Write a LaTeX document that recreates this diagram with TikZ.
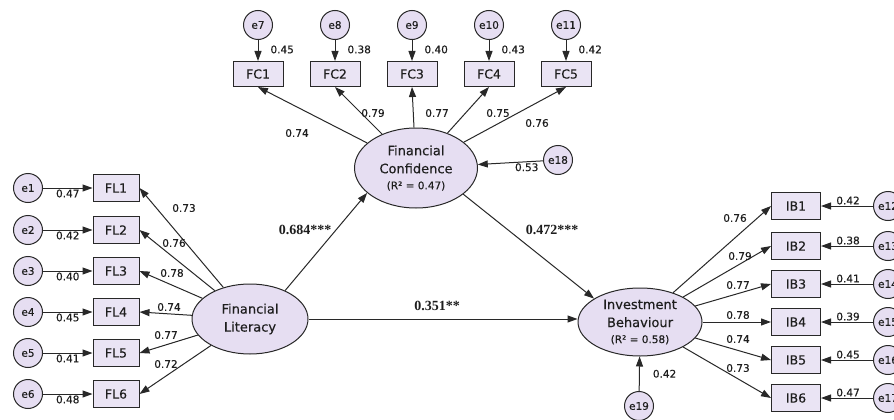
\documentclass[tikz,border=0pt]{standalone}
\usepackage{fontspec}
\setmainfont{DejaVu Sans}[FakeBold=0.3]
\newfontfamily\serifb{Liberation Serif}
\usetikzlibrary{arrows.meta,shapes.geometric}
\definecolor{lav}{RGB}{230,222,242}
\definecolor{boxfill}{RGB}{234,228,244}
\definecolor{ln}{RGB}{40,40,40}
\definecolor{tx}{RGB}{30,30,30}
\begin{document}
\begin{tikzpicture}[x=1pt,y=-1pt,
  latent/.style={ellipse, draw=ln, line width=1pt, fill=lav, align=center, inner sep=0pt, font=\fontsize{13}{18}\selectfont, text=tx},
  obs/.style={rectangle, draw=ln, line width=1pt, fill=boxfill, inner sep=0pt, font=\fontsize{12.5}{14}\selectfont, text=tx},
  flbox/.style={obs, minimum width=46pt, minimum height=27pt},
  fcbox/.style={obs, minimum width=50pt, minimum height=25pt},
  ibbox/.style={obs, minimum width=49pt, minimum height=27pt},
  err/.style={circle, draw=ln, line width=1pt, fill=lav, minimum size=29pt, inner sep=0pt, font=\fontsize{10.5}{12}\selectfont, text=tx},
  num/.style={font=\fontsize{10.5}{12}\selectfont, text=tx, inner sep=1pt},
  coef/.style={font=\serifb\bfseries\fontsize{14}{16}\selectfont, text=tx, inner sep=1pt},
  arr/.style={-{Triangle[length=10pt,width=7pt]}, line width=1pt, draw=ln},
]
\clip (0,0) rectangle (894,420);
\fill[white] (0,0) rectangle (894,420);

% latent variables
\node[latent, minimum width=116pt, minimum height=70pt] (FL) at (250,319) {Financial\\Literacy};
\node[latent, minimum width=123pt, minimum height=80pt] (FC) at (416,168) {Financial\\Confidence\\[-2pt]{\fontsize{10.5}{12}\selectfont (R² = 0.47)}};
\node[latent, minimum width=124pt, minimum height=68pt] (IB) at (640,322) {Investment\\Behaviour\\[-2pt]{\fontsize{10.5}{12}\selectfont (R² = 0.58)}};

% FL indicators
\foreach \i/\y in {1/188,2/230,3/271,4/312,5/353,6/394}{
  \node[flbox] (FL\i) at (116,\y) {FL\i};
  \node[err] (e\i) at (28,\y) {e\i};
}
% FC indicators
\foreach \i/\x/\e in {1/258/7,2/335/8,3/412/9,4/489/10,5/566/11}{
  \node[fcbox] (FC\i) at (\x,74) {FC\i};
  \node[err] (e\e) at (\x,25) {e\e};
}
% IB indicators
\foreach \i/\y/\e in {1/206/12,2/246/13,3/284/14,4/322/15,5/360/16,6/398/17}{
  \node[ibbox] (IB\i) at (796,\y) {IB\i};
  \node[err] (e\e) at (888,\y) {e\e};
}
\node[err] (e18) at (558,160) {e18};
\node[err] (e19) at (639,406) {e19};

% error arrows FL
\draw[arr] (e1) -- node[num, below] (n1) {0.47} (FL1);
\draw[arr] (e2) -- node[num, below] (n2) {0.42} (FL2);
\draw[arr] (e3) -- node[num, below] (n3) {0.40} (FL3);
\draw[arr] (e4) -- node[num, below] (n4) {0.45} (FL4);
\draw[arr] (e5) -- node[num, below] (n5) {0.41} (FL5);
\draw[arr] (e6) -- node[num, below] (n6) {0.48} (FL6);
% error arrows FC
\draw[arr] (e7) -- node[num, right=11pt, pos=0.45] (n7) {0.45} (FC1);
\draw[arr] (e8) -- node[num, right=11pt, pos=0.45] (n8) {0.38} (FC2);
\draw[arr] (e9) -- node[num, right=11pt, pos=0.45] (n9) {0.40} (FC3);
\draw[arr] (e10) -- node[num, right=11pt, pos=0.45] (n10) {0.43} (FC4);
\draw[arr] (e11) -- node[num, right=11pt, pos=0.45] (n11) {0.42} (FC5);
% error arrows IB
\draw[arr] (e12) -- node[num, above, pos=0.48] (n12) {0.42} (IB1);
\draw[arr] (e13) -- node[num, above, pos=0.48] (n13) {0.38} (IB2);
\draw[arr] (e14) -- node[num, above, pos=0.48] (n14) {0.41} (IB3);
\draw[arr] (e15) -- node[num, above, pos=0.48] (n15) {0.39} (IB4);
\draw[arr] (e16) -- node[num, above, pos=0.48] (n16) {0.45} (IB5);
\draw[arr] (e17) -- node[num, above, pos=0.48] (n17) {0.47} (IB6);
% disturbance
\draw[arr] (e18) -- node[num, below, pos=0.25] (n18) {0.53} (FC);
\draw[arr] (e19) -- node[num, right=12pt] (n19) {0.42} (IB);

% loadings FL
\foreach \i in {1,...,6}{ \draw[arr] (FL) -- (FL\i.east); }
\node[num] (lf1) at (184,208) {0.73};
\node[num] (lf2) at (174,243) {0.76};
\node[num] (lf3) at (172,273) {0.78};
\node[num] (lf4) at (169,307) {0.74};
\node[num] (lf5) at (166,335) {0.77};
\node[num] (lf6) at (166,364) {0.72};
% loadings FC
\foreach \i in {1,...,5}{ \draw[arr] (FC) -- (FC\i.south); }
\node[num] (lc1) at (297,133) {0.74};
\node[num] (lc2) at (373,113) {0.79};
\node[num] (lc3) at (437,113) {0.77};
\node[num] (lc4) at (498,113) {0.75};
\node[num] (lc5) at (537,123) {0.76};
% loadings IB
\foreach \i in {1,...,6}{ \draw[arr] (IB) -- (IB\i.west); }
\node[num] (li1) at (735,218) {0.76};
\node[num] (li2) at (740,256) {0.79};
\node[num] (li3) at (738,285) {0.77};
\node[num] (li4) at (738,315) {0.78};
\node[num] (li5) at (738,339) {0.74};
\node[num] (li6) at (738,368) {0.73};

% structural paths
\draw[arr] (FL.39) -- (FC.207);
\draw[arr] (FC.-29) -- (IB.153);
\draw[arr] (FL.east) -- (FL.east -| IB.west);
\node[coef] (p1) at (305,230) {0.684***};
\node[coef] (p2) at (552,230) {0.472***};
\node[coef] (p3) at (437,306) {0.351**};
\end{tikzpicture}
\end{document}
